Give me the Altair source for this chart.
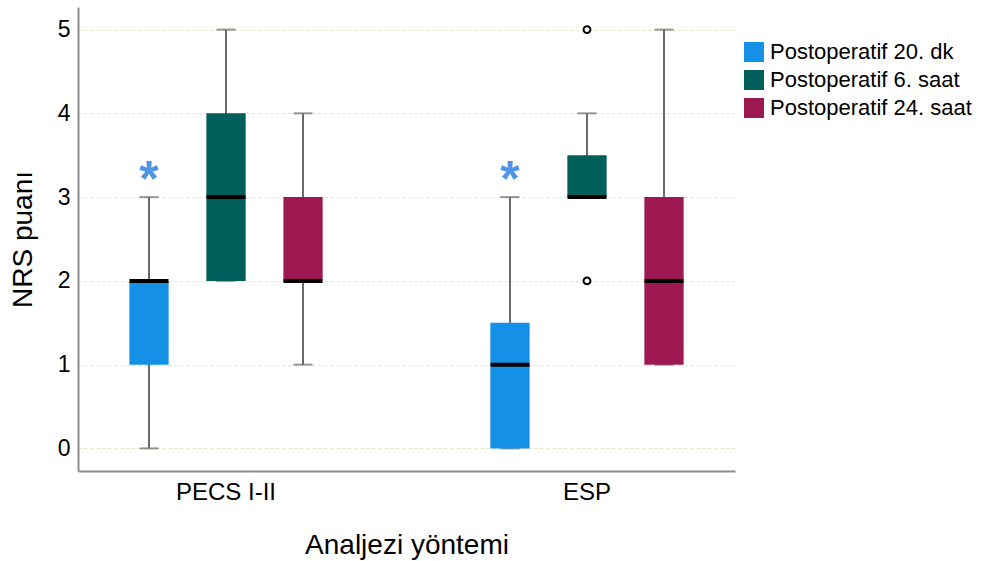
import altair as alt
import pandas as pd

# ---- data ----
gruplar = ["PECS I-II", "ESP"]
zamanlar = ["Postoperatif 20. dk", "Postoperatif 6. saat", "Postoperatif 24. saat"]
renkler = ["#1490e6", "#005e5b", "#9d1850"]

box_grup = ["PECS I-II", "PECS I-II", "PECS I-II", "ESP", "ESP", "ESP"]
box_zaman = zamanlar + zamanlar
alt_biyik = [0, 2, 1, 0, 3, 1]
q1 = [1, 2, 2, 0, 3, 1]
medyan = [2, 3, 2, 1, 3, 2]
q3 = [2, 4, 3, 1.5, 3.5, 3]
ust_biyik = [3, 5, 4, 3, 4, 5]

# outliers (circles) and extremes (asterisks)
out_grup = ["ESP", "ESP"]
out_zaman = ["Postoperatif 6. saat", "Postoperatif 6. saat"]
out_deger = [5, 2]

ext_grup = ["PECS I-II", "ESP"]
ext_zaman = ["Postoperatif 20. dk", "Postoperatif 20. dk"]
ext_deger = [3.3, 3.3]

FONT = "Liberation Sans"
GRAY = "#6a6a6a"

box_df = pd.DataFrame({
    "grup": box_grup, "zaman": box_zaman, "alt": alt_biyik, "q1": q1,
    "medyan": medyan, "q3": q3, "ust": ust_biyik,
})
out_df = pd.DataFrame({"grup": out_grup, "zaman": out_zaman, "deger": out_deger})
ext_df = pd.DataFrame({"grup": ext_grup, "zaman": ext_zaman, "deger": ext_deger})

x_enc = alt.X(
    "grup:N",
    sort=gruplar,
    scale=alt.Scale(domain=gruplar, paddingInner=0.36, paddingOuter=0.09),
    axis=alt.Axis(
        title="Analjezi yöntemi", labelAngle=0, ticks=False, labelPadding=9,
        labelFontSize=24, labelFont=FONT, labelColor="#000000",
        titleFontSize=28, titleFont=FONT, titleFontWeight="normal", titleColor="#000000",
        titleY=82, titleBaseline="alphabetic",
        domainColor="#8c8c8c", domainWidth=2, grid=False,
    ),
)
xo_enc = alt.XOffset(
    "zaman:N",
    sort=zamanlar,
    scale=alt.Scale(domain=zamanlar, paddingInner=0.49, paddingOuter=0.245),
)
y_scale = alt.Scale(domain=[-0.27, 5.27], nice=False, zero=False)
y_axis = alt.Axis(
    title="NRS puanı", values=[0, 1, 2, 3, 4, 5], format="d", ticks=False, labelPadding=8,
    labelFontSize=23, labelFont=FONT, labelColor="#000000",
    titleFontSize=28, titleFont=FONT, titleFontWeight="normal", titleColor="#000000",
    titleX=-55, titleY=232, titleAlign="center", titleBaseline="middle", titleAngle=270,
    domainColor="#8c8c8c", domainWidth=2,
    grid=True, gridColor="#e6e1bf", gridDash=[3, 3], gridWidth=1,
)

base = alt.Chart(box_df)

whisker = base.mark_rule(color=GRAY, strokeWidth=2).encode(
    x=x_enc, xOffset=xo_enc,
    y=alt.Y("alt:Q", scale=y_scale, axis=y_axis), y2="ust:Q",
)
cap_low = base.mark_tick(color=GRAY, size=19, thickness=2).encode(
    x=x_enc, xOffset=xo_enc, y=alt.Y("alt:Q", scale=y_scale),
)
cap_high = base.mark_tick(color=GRAY, size=19, thickness=2).encode(
    x=x_enc, xOffset=xo_enc, y=alt.Y("ust:Q", scale=y_scale),
)
box = base.mark_bar().encode(
    x=x_enc, xOffset=xo_enc,
    y=alt.Y("q1:Q", scale=y_scale), y2="q3:Q",
    color=alt.Color(
        "zaman:N",
        scale=alt.Scale(domain=zamanlar, range=renkler),
        legend=alt.Legend(
            title=None, orient="none", legendX=665, legendY=34,
            symbolType="square", symbolSize=400, symbolStrokeWidth=0,
            labelFontSize=22, labelFont=FONT, labelColor="#000000",
            labelOffset=5, rowPadding=6, padding=0, labelLimit=400,
        ),
    ),
)
med = base.mark_tick(color="#000000", size=39, thickness=4, opacity=1).encode(
    x=x_enc, xOffset=xo_enc, y=alt.Y("medyan:Q", scale=y_scale),
)
outl = alt.Chart(out_df).mark_point(
    shape="circle", filled=False, color="#000000", strokeWidth=2, size=48, opacity=1
).encode(
    x=x_enc, xOffset=xo_enc, y=alt.Y("deger:Q", scale=y_scale),
)
ext = alt.Chart(ext_df).mark_text(
    text="*", font=FONT, fontSize=50, fontWeight="bold", color="#4f94e6",
    baseline="middle", align="center", dy=9,
).encode(
    x=x_enc, xOffset=xo_enc, y=alt.Y("deger:Q", scale=y_scale),
)

chart = alt.layer(whisker, cap_low, cap_high, box, med, outl, ext).properties(
    width=657, height=464,
    autosize=alt.AutoSizeParams(type="none"),
    padding={"left": 78, "top": 7, "right": 249, "bottom": 90},
    background="#ffffff",
).configure_view(stroke=None)

chart.save("out.html", embed_options={"renderer": "svg", "actions": False})
